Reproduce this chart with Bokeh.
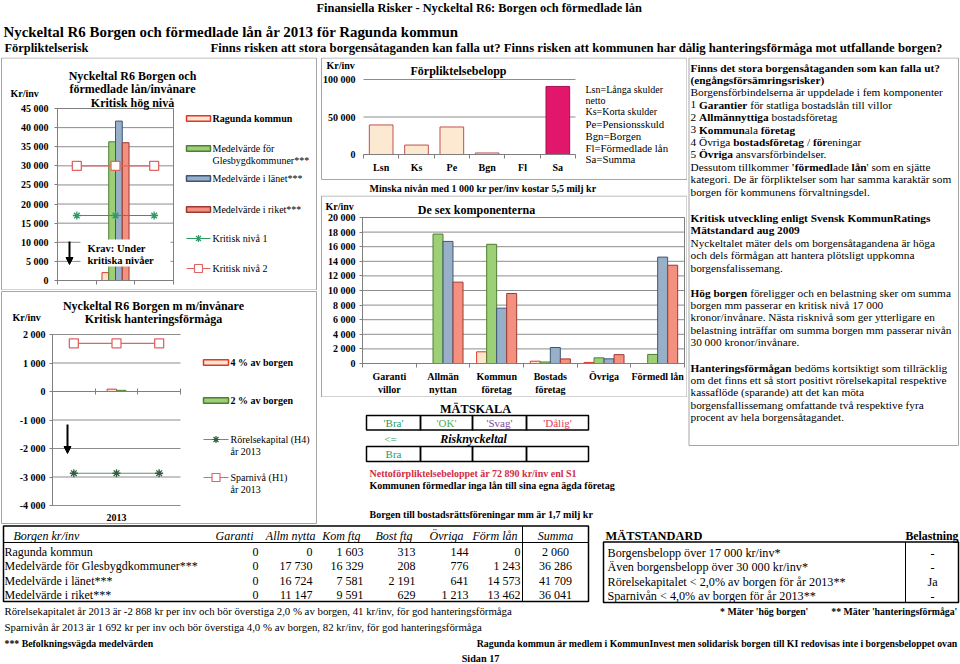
import numpy as np
from bokeh.plotting import figure
from bokeh.models import Range1d, FixedTicker, LinearAxis, Arrow, NormalHead
from bokeh.layouts import row, column
from bokeh.embed import file_html
from bokeh.resources import INLINE
from bokeh.core.properties import value

# ---------------- data ----------------
series_names = ["Ragunda kommun", "Medelvärde för Glesbygdkommuner***",
                "Medelvärde i länet***", "Medelvärde i riket***"]
comp_labels = ["Garanti\nvillor", "Allmän\nnyttan", "Kommun\nföretag", "Bostads\nföretag", "Övriga", "Förmedl lån"]
ragunda = [0, 0, 1603, 313, 144, 0]
glesbygd = [0, 17730, 16329, 208, 776, 1243]
lanet = [0, 16724, 7581, 2191, 641, 14573]
riket = [0, 11147, 9591, 629, 1213, 13462]
summa = [2060, 36286, 41709, 36041]
kritisk_niva_1 = 17000
kritisk_niva_2 = 30000
year_cats = ["", "2013", ""]
borgen_4pct = 82
borgen_2pct = 41
rorelsekapital = -2868
sparniva = 1692
forp_cats = ["Lsn", "Ks", "Pe", "Bgn", "Fl", "Sa"]
forp_vals = [39400, 12600, 36700, 2060, 0, 90760]
forp_legend = ["Lsn=Långa skulder", "netto", "Ks=Korta skulder", "Pe=Pensionsskuld",
               "Bgn=Borgen", "Fl=Förmedlade lån", "Sa=Summa"]
table_cols = ["Garanti", "Allm nytta", "Kom ftg", "Bost ftg", "Övriga", "Förm lån", "Summa"]
matstandard_rows = ["Borgensbelopp över 17 000 kr/inv*", "Även borgensbelopp över 30 000 kr/inv*",
                    "Rörelsekapitalet < 2,0% av borgen för år 2013**", "Sparnivån < 4,0% av borgen för år 2013**"]
belastning = ["-", "-", "Ja", "-"]
mat_scale = ["'Bra'", "'OK'", "'Svag'", "'Dålig'"]
risk_result = ["Bra", "", "", ""]
ticks_a1 = list(range(0, 45001, 5000))
ticks_a2 = list(range(-4000, 2001, 1000))
ticks_b1 = [0, 50000, 100000]
ticks_b3 = list(range(0, 20001, 2000))

# ---------------- styles ----------------
SERIF = "Liberation Serif"
GRID = "#8C8C8C"
AXIS = "#7F7F7F"
PANEL = "#A6A6A6"
SER_FILL = ["#FDE5CB", "#9DCF76", "#98AFC8", "#F4907F"]
SER_LINE = ["#E0362C", "#4F7F30", "#3C5776", "#9C3A30"]
NIV1 = "#2F9A63"
NIV2 = "#E06666"
RK = "#6E8F6E"
RK_MARK = "#2E5E3E"
FORP_FILL = "#FDE9D2"
FORP_LINE = "#C0504D"
SA_FILL = "#E2166B"
SA_LINE = "#A3124F"
RED_TEXT = "#D12D45"
MAT_COLORS = ["#2E9A5E", "#4FB04F", "#7E4C9E", "#D8405A"]
D = dict(x_range_name="d", y_range_name="d")


def fmt(v):
    s = f"{abs(int(v)):,}".replace(",", " ")
    return ("-" if v < 0 else "") + s


# Times metrics (for mixed bold/regular runs)
U = "ABCDEFGHIJKLMNOPQRSTUVWXYZ"
L = "abcdefghijklmnopqrstuvwxyz"
REG = dict(zip(U, [722, 667, 667, 722, 611, 556, 722, 722, 333, 389, 722, 611, 889, 722, 722, 556, 722, 667, 556, 611, 722, 722, 944, 722, 722, 611]))
REG.update(zip(L, [444, 500, 444, 500, 444, 333, 500, 500, 278, 278, 500, 278, 778, 500, 500, 500, 500, 333, 389, 278, 500, 500, 722, 500, 500, 444]))
REG.update({' ': 250, '%': 833, "'": 180, '(': 333, ')': 333, '*': 500, ',': 250, '-': 333, '.': 250, '/': 278, ':': 278, '?': 444})
BOLD = dict(zip(U, [722, 667, 722, 722, 667, 611, 778, 778, 389, 500, 778, 667, 944, 722, 778, 611, 778, 722, 556, 667, 722, 722, 1000, 722, 722, 667]))
BOLD.update(zip(L, [500, 556, 444, 556, 444, 333, 500, 556, 278, 333, 556, 278, 833, 556, 500, 556, 556, 444, 389, 333, 556, 500, 722, 500, 500, 444]))
BOLD.update({' ': 250, '%': 1000, "'": 278, '(': 333, ')': 333, '*': 500, ',': 250, '-': 333, '.': 250, '/': 278, ':': 333, '?': 500})
BASE = {"å": "a", "ä": "a", "ö": "o", "Å": "A", "Ä": "A", "Ö": "O", "é": "e"}


def wunits(s, bold):
    t = BOLD if bold else REG
    return sum(t.get(BASE.get(c, c), 500) for c in s)


# ---------------- helpers ----------------
def canvas(x0, x1, y0, y1):
    return figure(width=x1 - x0, height=y1 - y0,
                  x_range=Range1d(x0, x1), y_range=Range1d(y1, y0),
                  x_axis_type=None, y_axis_type=None, toolbar_location=None,
                  output_backend="svg", min_border=0, outline_line_color=None,
                  background_fill_color="white", border_fill_color="white")


def set_data(p, fx0, fx1, fy0, fy1, xa, xb, ya, yb):
    """data [xa,xb]x[ya,yb] is shown in panel pixels [fx0,fx1]x[fy1,fy0]"""
    x0, x1 = p.x_range.start, p.x_range.end
    y1, y0 = p.y_range.start, p.y_range.end
    sx = (xb - xa) / (fx1 - fx0)
    sy = (yb - ya) / (fy1 - fy0)
    p.extra_x_ranges = {"d": Range1d(xa + (x0 - fx0) * sx, xa + (x1 - fx0) * sx)}
    p.extra_y_ranges = {"d": Range1d(ya - (y1 - fy1) * sy, yb + (fy0 - y0) * sy)}


def add_axis(p, side, ticks, loc, bounds, labels, size=10, tick_in=0, tick_out=3, standoff=4,
             minor=None, line=AXIS, tick_color=AXIS):
    ax = LinearAxis(x_range_name="d", y_range_name="d", fixed_location=loc, bounds=bounds,
                    ticker=FixedTicker(ticks=list(ticks), minor_ticks=list(minor or [])),
                    major_label_overrides=labels,
                    major_label_text_font=SERIF, major_label_text_font_style="bold",
                    major_label_text_font_size=f"{size}px", major_label_text_color="black",
                    axis_line_color=line, major_tick_line_color=tick_color,
                    major_tick_in=tick_in, major_tick_out=tick_out,
                    minor_tick_line_color=AXIS if minor else None, minor_tick_in=0, minor_tick_out=4,
                    major_label_standoff=standoff)
    p.add_layout(ax, side)


def hgrid(p, ticks, xa, xb, color=GRID):
    n = len(ticks)
    p.segment(x0=[xa] * n, x1=[xb] * n, y0=list(ticks), y1=list(ticks), line_color=color, line_width=1, **D)


def tx(p, x, y, s, size, style="normal", color="black", align="left", font=SERIF):
    p.text(x=[x], y=[y], text=[s], text_font=value(font), text_font_size=value(f"{size}px"),
           text_font_style=value(style), text_color=color, text_align=value(align),
           text_baseline=value("middle"))


def rich(p, x, y, segs, size):
    cx = x
    for s, b in segs:
        lead = len(s) - len(s.lstrip(" "))
        st = s.strip(" ")
        if st:
            tx(p, cx + lead * 250 * size / 1000, y, st, size, "bold" if b else "normal")
        cx += wunits(s, b) * size / 1000


def rect(p, l, r, t, b, fill=None, line=None, lw=1):
    p.quad(left=[l], right=[r], top=[t], bottom=[b], fill_color=fill, line_color=line, line_width=lw)


def hline(p, xa, xb, y, color, lw=1):
    p.segment(x0=[xa], x1=[xb], y0=[y], y1=[y], line_color=color, line_width=lw)


def arrow(p, x, ya, yb):
    p.add_layout(Arrow(x_start=x, y_start=ya, x_end=x, y_end=yb, line_color="black", line_width=2,
                       start=None, end=NormalHead(size=7, fill_color="black", line_color="black")))


# ---------------- header ----------------
pH = canvas(0, 960, 0, 57)
tx(pH, 316, 7, "Finansiella Risker - Nyckeltal R6: Borgen och förmedlade lån", 12.4, "bold")
tx(pH, 3, 31.5, "Nyckeltal R6 Borgen och förmedlade lån år 2013 för Ragunda kommun", 14.9, "bold")
tx(pH, 4, 47, "Förpliktelserisk", 12.4, "bold")
tx(pH, 210, 47, "Finns risken att stora borgensåtaganden kan falla ut? Finns risken att kommunen har dålig "
                "hanteringsförmåga mot utfallande borgen?", 12.7, "bold")

# ---------------- A1: Kritisk hög nivå ----------------
ncat = len(year_cats)
cat_x = np.arange(ncat) + 0.5
c2013 = cat_x[year_cats.index("2013")]
pA1 = canvas(0, 320, 57, 290)
set_data(pA1, 57, 173, 108, 280, 0, ncat, 0, 45000)
hgrid(pA1, ticks_a1, 0, ncat)
off4 = np.array([-0.2625, -0.0875, 0.0875, 0.2625])
for i in range(4):
    pA1.vbar(x=[c2013 + off4[i]], top=[summa[i]], bottom=0, width=0.175,
             fill_color=SER_FILL[i], line_color=SER_LINE[i], line_width=1, **D)
pA1.line(cat_x, [kritisk_niva_1] * ncat, line_color=NIV1, line_width=1.2, **D)
pA1.scatter(cat_x, [kritisk_niva_1] * ncat, marker="asterisk", size=8, line_color=NIV1, line_width=1.3, **D)
pA1.line(cat_x, [kritisk_niva_2] * ncat, line_color=NIV2, line_width=1.2, **D)
pA1.scatter(cat_x, [kritisk_niva_2] * ncat, marker="square", size=9, fill_color="white",
            line_color=NIV2, line_width=1.3, **D)
pA1.quad(left=[0], right=[ncat], bottom=[0], top=[45000], fill_color=None, line_color=AXIS, **D)
add_axis(pA1, "left", ticks_a1, 0, (0, 45000), {v: fmt(v) for v in ticks_a1}, tick_out=3, standoff=6)
add_axis(pA1, "below", range(ncat + 1), 0, (0, ncat), {i: "" for i in range(ncat + 1)},
         size=1, tick_out=4, standoff=0)
rect(pA1, 1, 316, 57.5, 289.5, line=PANEL)
tx(pA1, 10, 93, "Kr/inv", 10, "bold")
for yy, s in zip([75, 88.5, 102], ["Nyckeltal R6 Borgen och", "förmedlade lån/invånare", "Kritisk hög nivå"]):
    tx(pA1, 132, yy, s, 12, "bold", align="center")
rect(pA1, 80, 170, 239, 266, fill="white")
tx(pA1, 87, 248, "Krav: Under", 10.5, "bold")
tx(pA1, 87, 259.5, "kritiska nivåer", 10.5, "bold")
arrow(pA1, 69, 241, 264)
leg_y = [118, 148, 178, 209]
for i in range(4):
    rect(pA1, 186, 210, leg_y[i] - 2.7, leg_y[i] + 2.7, fill=SER_FILL[i], line=SER_LINE[i], lw=1.5)
tx(pA1, 212, 118, series_names[0], 10, "bold")
g1, g2 = series_names[1].split(" Glesbygd")
tx(pA1, 212, 148, g1, 10)
tx(pA1, 212, 160, "Glesbygd" + g2, 10)
tx(pA1, 212, 178, series_names[2], 10)
tx(pA1, 212, 209, series_names[3], 10)
hline(pA1, 186, 210, 238, NIV1, 1.2)
pA1.scatter([198], [238], marker="asterisk", size=7, line_color=NIV1, line_width=1.2)
tx(pA1, 212, 238, "Kritisk nivå 1", 10)
hline(pA1, 186, 210, 268, NIV2, 1.2)
pA1.scatter([198], [268], marker="square", size=8, fill_color="white", line_color=NIV2, line_width=1.2)
tx(pA1, 212, 268, "Kritisk nivå 2", 10)

# ---------------- A2: Kritisk hanteringsförmåga ----------------
pA2 = canvas(0, 320, 290, 524)
set_data(pA2, 52, 180, 334, 505, 0, ncat, -4000, 2000)
hgrid(pA2, ticks_a2, 0, ncat)
pA2.vbar(x=[c2013 - 0.11], top=[borgen_4pct], bottom=0, width=0.22,
         fill_color=SER_FILL[0], line_color=SER_LINE[0], line_width=1, **D)
pA2.vbar(x=[c2013 + 0.11], top=[borgen_2pct], bottom=0, width=0.22,
         fill_color=SER_FILL[1], line_color=SER_LINE[1], line_width=1, **D)
pA2.line(cat_x, [sparniva] * ncat, line_color=NIV2, line_width=1.2, **D)
pA2.scatter(cat_x, [sparniva] * ncat, marker="square", size=9, fill_color="white",
            line_color=NIV2, line_width=1.3, **D)
pA2.line(cat_x, [rorelsekapital] * ncat, line_color=RK, line_width=1.2, **D)
pA2.scatter(cat_x, [rorelsekapital] * ncat, marker="asterisk", size=8, line_color=RK_MARK, line_width=1.3, **D)
add_axis(pA2, "left", ticks_a2, 0, (-4000, 2000), {v: fmt(v) for v in ticks_a2}, tick_out=3, standoff=4)
add_axis(pA2, "below", range(ncat + 1), 0, (0, ncat), {i: "" for i in range(ncat + 1)},
         size=1, tick_in=3, tick_out=3, standoff=0)
rect(pA2, 1, 316, 291, 523, line=PANEL)
tx(pA2, 153, 305, "Nyckeltal R6 Borgen m m/invånare", 12, "bold", align="center")
tx(pA2, 153, 318.5, "Kritisk hanteringsförmåga", 12, "bold", align="center")
tx(pA2, 12, 317, "Kr/inv", 10, "bold")
tx(pA2, 116, 517, "2013", 10, "bold", align="center")
arrow(pA2, 67, 424, 453)
rect(pA2, 203, 228, 359.3, 364.7, fill=SER_FILL[0], line=SER_LINE[0], lw=1.5)
tx(pA2, 230, 362, "4 % av borgen", 10, "bold")
rect(pA2, 203, 228, 397.3, 402.7, fill=SER_FILL[1], line=SER_LINE[1], lw=1.5)
tx(pA2, 230, 400, "2 % av borgen", 10, "bold")
hline(pA2, 203, 228, 439, RK, 1.2)
pA2.scatter([215.5], [439], marker="asterisk", size=7, line_color=RK_MARK, line_width=1.2)
tx(pA2, 230, 439, "Rörelsekapital (H4)", 10)
tx(pA2, 230, 451, "år 2013", 10)
hline(pA2, 203, 228, 477, NIV2, 1.2)
pA2.scatter([215.5], [477], marker="square", size=8, fill_color="white", line_color=NIV2, line_width=1.2)
tx(pA2, 230, 477, "Sparnivå (H1)", 10)
tx(pA2, 230, 489, "år 2013", 10)

# ---------------- B1: Förpliktelsebelopp ----------------
nf = len(forp_cats)
fc = np.arange(nf) + 0.5
pB1 = canvas(320, 687, 57, 195)
set_data(pB1, 363, 575, 79, 154, 0, nf, 0, 100000)
hgrid(pB1, ticks_b1[1:], 0, nf)
pB1.vbar(x=fc, top=forp_vals, bottom=0, width=0.67,
         fill_color=[FORP_FILL] * (nf - 1) + [SA_FILL], line_color=[FORP_LINE] * (nf - 1) + [SA_LINE],
         line_width=1, **D)
add_axis(pB1, "left", ticks_b1, 0, (0, 100000), {v: fmt(v) for v in ticks_b1},
         tick_out=0, standoff=8, line=None, tick_color=None)
add_axis(pB1, "below", list(fc), 0, (0, nf), {float(c): n for c, n in zip(fc, forp_cats)},
         tick_out=0, standoff=3, minor=range(nf + 1), tick_color=None)
rect(pB1, 321, 686.5, 57.5, 179, line=PANEL)
tx(pB1, 326, 65, "Kr/inv", 10, "bold")
tx(pB1, 458, 70, "Förpliktelsebelopp", 12, "bold", align="center")
for yy, s, sz in zip([89, 100, 111, 123, 135, 147, 158.5], forp_legend, [10, 10, 10, 10.8, 10.8, 10.8, 10.8]):
    tx(pB1, 585, yy, s, sz)
tx(pB1, 369, 188, "Minska nivån med 1 000 kr per/inv kostar 5,5 milj kr", 10, "bold")

# ---------------- B3: De sex komponenterna ----------------
nc = len(comp_labels)
cc = np.arange(nc) + 0.5
pB3 = canvas(320, 687, 195, 397)
set_data(pB3, 362, 684, 217, 363, 0, nc, 0, 20000)
hgrid(pB3, ticks_b3, 0, nc)
offs = [-0.28, -0.093, 0.093, 0.28]
for i, vals in enumerate([ragunda, glesbygd, lanet, riket]):
    pB3.vbar(x=cc + offs[i], top=vals, bottom=0, width=0.186,
             fill_color=SER_FILL[i], line_color=SER_LINE[i], line_width=1, **D)
pB3.quad(left=[0], right=[nc], bottom=[0], top=[20000], fill_color=None, line_color=AXIS, **D)
add_axis(pB3, "left", ticks_b3, 0, (0, 20000), {v: fmt(v) for v in ticks_b3}, tick_out=3, standoff=4)
add_axis(pB3, "below", list(cc), 0, (0, nc), {float(c): n for c, n in zip(cc, comp_labels)},
         tick_out=0, standoff=3, minor=range(nc + 1), tick_color=None)
rect(pB3, 321, 686.5, 195.5, 396.5, line=PANEL)
tx(pB3, 325, 206, "Kr/inv", 10, "bold")
tx(pB3, 476, 209, "De sex komponenterna", 12, "bold", align="center")

# ---------------- B4: Mätskala ----------------
pB4 = canvas(320, 687, 397, 524)
tx(pB4, 475, 408, "MÄTSKALA", 12.3, "bold", align="center")
edges = [366, 420, 472, 526, 588]
for (t, b) in [(415, 429.5), (446, 461)]:
    pB4.quad(left=edges[:-1], right=edges[1:], top=[t] * 4, bottom=[b] * 4,
             fill_color=None, line_color="black", line_width=1.5)
for i in range(4):
    cx = (edges[i] + edges[i + 1]) / 2
    tx(pB4, cx, 422.5, mat_scale[i], 11, color=MAT_COLORS[i], align="center")
    if risk_result[i]:
        tx(pB4, cx, 453.5, risk_result[i], 11, color=MAT_COLORS[i], align="center")
tx(pB4, 390, 438, "<=", 11, color=MAT_COLORS[0], align="center")
tx(pB4, 473, 438, "Risknyckeltal", 12, "bold italic", align="center")
tx(pB4, 369, 472.5, "Nettoförpliktelsebeloppet är 72 890 kr/inv enl S1", 10, "bold", color=RED_TEXT)
tx(pB4, 369, 485, "Kommunen förmedlar inga lån till sina egna ägda företag", 10, "bold")
tx(pB4, 369, 514, "Borgen till bostadsrättsföreningar mm är 1,7 milj kr", 10, "bold")

# ---------------- C: explanation text ----------------
pC = canvas(687, 960, 57, 524)
rect(pC, 688.5, 958, 57.5, 445, line=PANEL)
paragraphs = [
    [[("Finns det stora borgensåtaganden som kan falla ut?", True)],
     [("(engångsförsämringsrisker)", True)],
     [("Borgensförbindelserna är uppdelade i fem komponenter", False)],
     [("1 ", False), ("Garantier", True), (" för statliga bostadslån till villor", False)],
     [("2 ", False), ("Allmännyttiga", True), (" bostadsföretag", False)],
     [("3 ", False), ("Kommun", True), ("ala ", False), ("företag", True)],
     [("4 Övriga ", False), ("bostadsföretag", True), (" / ", False), ("för", True), ("eningar", False)],
     [("5 ", False), ("Övriga", True), (" ansvarsförbindelser.", False)],
     [("Dessutom tillkommer ", False), ("'förmedl", True), ("ade ", False), ("lån", True), ("' som en sjätte", False)],
     [("kategori. De är förpliktelser som har samma karaktär som", False)],
     [("borgen för kommunens förvaltningsdel.", False)]],
    [[("Kritisk utveckling enligt Svensk KommunRatings", True)],
     [("Mätstandard aug 2009", True)],
     [("Nyckeltalet mäter dels om borgensåtagandena är höga", False)],
     [("och dels förmågan att hantera plötsligt uppkomna", False)],
     [("borgensfalissemang.", False)]],
    [[("Hög borgen", True), (" föreligger och en belastning sker om summa", False)],
     [("borgen mm passerar en kritisk nivå 17 000", False)],
     [("kronor/invånare. Nästa risknivå som ger ytterligare en", False)],
     [("belastning inträffar om summa borgen mm passerar nivån", False)],
     [("30 000 kronor/invånare.", False)]],
    [[("Hanteringsförmågan", True), (" bedöms kortsiktigt som tillräcklig", False)],
     [("om det finns ett så stort positivt rörelsekapital respektive", False)],
     [("kassaflöde (sparande) att det kan möta", False)],
     [("borgensfallissemang omfattande två respektive fyra", False)],
     [("procent av hela borgensåtagandet.", False)]],
]
for start, lines in zip([67, 217.5, 292, 367], paragraphs):
    for i, segs in enumerate(lines):
        rich(pC, 690, start + 12.4 * i, segs, 11.3)

# ---------------- bottom tables ----------------
pBot = canvas(0, 960, 524, 664)
rect(pBot, 3, 588, 525.5, 601, line="black", lw=1.5)
pBot.segment(x0=[3, 522], y0=[542, 525.5], x1=[588, 522], y1=[542, 601], line_color="black", line_width=1)
tx(pBot, 13, 535, "Borgen kr/inv", 12, "italic")
head_right = [253, 315, 360, 412, 463, 517]
val_right = [258, 312, 363, 415, 468, 520]
for i, h in enumerate(table_cols[:-1]):
    tx(pBot, head_right[i], 535, h, 12, "italic", align="right")
tx(pBot, 555, 535, table_cols[-1], 12, "italic", align="center")
row_y = [551, 565.5, 580, 594]
for r, (name, vals) in enumerate(zip(series_names, [ragunda, glesbygd, lanet, riket])):
    tx(pBot, 4, row_y[r], name, 12)
    for i, v in enumerate(vals):
        tx(pBot, val_right[i], row_y[r], fmt(v), 12, align="right")
    tx(pBot, 555, row_y[r], fmt(summa[r]), 12, align="center")
tx(pBot, 4, 610, "Rörelsekapitalet år 2013 är -2 868 kr per inv och bör överstiga 2,0 % av borgen, 41 kr/inv, "
                 "för god hanteringsförmåga", 10.8)
tx(pBot, 4, 626, "Sparnivån år 2013 är 1 692 kr per inv och bör överstiga 4,0 % av borgen, 82 kr/inv, "
                 "för god hanteringsförmåga", 10.8)
tx(pBot, 4, 643, "*** Befolkningsvägda medelvärden", 9.8, "bold")
tx(pBot, 480, 658, "Sidan 17", 10.2, "bold", align="center")

tx(pBot, 605, 535, "MÄTSTANDARD", 12.4, "bold")
tx(pBot, 958, 535, "Belastning", 11.8, "bold", align="right")
rect(pBot, 603, 958, 541.5, 602, line="black", lw=1.5)
pBot.segment(x0=[905], y0=[541.5], x1=[905], y1=[602], line_color="black", line_width=1)
for r, (s, b) in enumerate(zip(matstandard_rows, belastning)):
    tx(pBot, 607, row_y[r] + 1, s, 12.2)
    tx(pBot, 932, row_y[r] + 1, b, 12.2, align="center")
tx(pBot, 808, 611, "* Mäter 'hög borgen'", 9.8, "bold", align="right")
tx(pBot, 957, 611, "** Mäter 'hanteringsförmåga'", 9.8, "bold", align="right")
tx(pBot, 957, 643, "Ragunda kommun är medlem i KommunInvest men solidarisk borgen till KI redovisas inte i "
                   "borgensbeloppet ovan", 9.8, "bold", align="right")

# ---------------- layout ----------------
colA = column(pA1, pA2, spacing=0)
colB = column(pB1, pB3, pB4, spacing=0)
mid = row(colA, colB, pC, spacing=0)
page = column(pH, mid, pBot, spacing=0)
open("out.html", "w").write(file_html(page, INLINE))
